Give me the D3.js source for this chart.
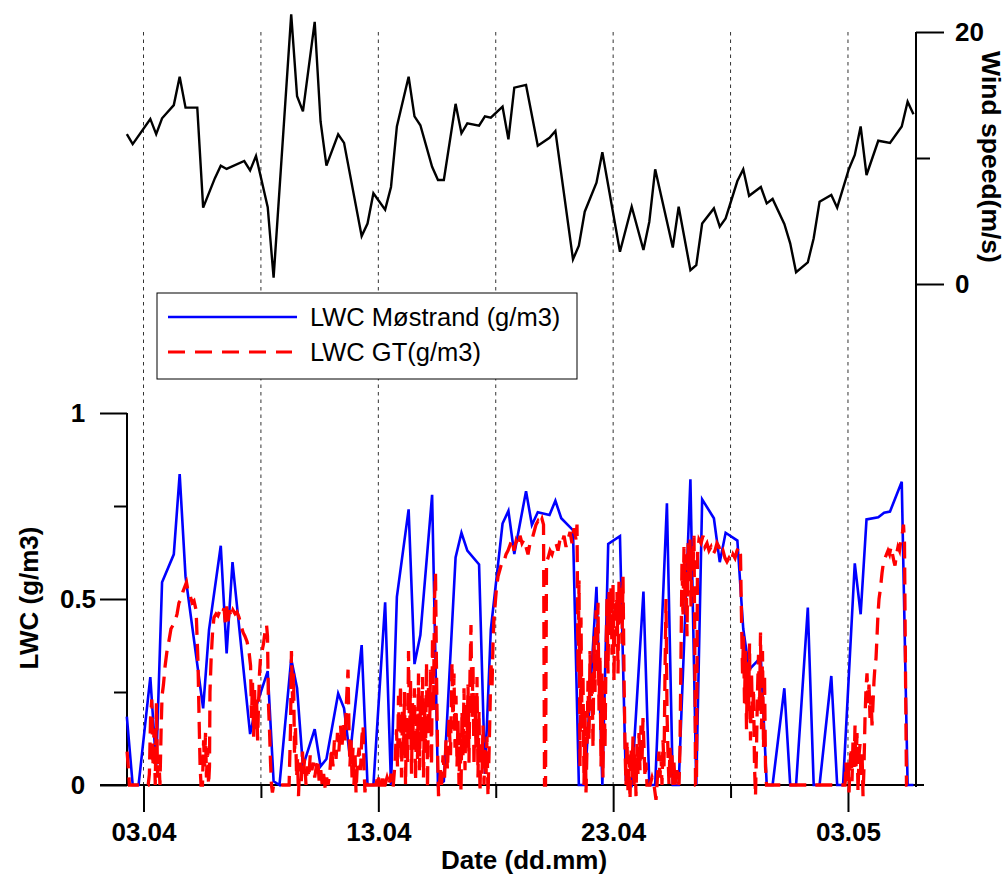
<!DOCTYPE html>
<html><head><meta charset="utf-8">
<script src="https://cdn.jsdelivr.net/npm/d3@7"></script>
<style>body{margin:0;background:#fff} svg{display:block}</style>
</head><body>
<svg id="chart" width="1006" height="879"></svg>
<script>
// ---- data (time = day of April, decimal; 33 = 03.05) ----
const windDay = [2.29,2.54,3.29,3.54,3.79,4.29,4.54,4.79,5.29,5.54,6.04,6.29,6.54,7.29,7.54,7.79,8.29,8.54,9.29,9.54,9.79,10.29,10.54,10.79,11.29,11.54,12.29,12.54,12.79,13.29,13.54,13.79,14.29,14.54,14.79,15.29,15.54,15.79,16.29,16.54,16.79,17.29,17.54,17.79,18.29,18.54,18.79,19.29,19.79,20.29,20.54,21.29,21.54,21.79,22.29,22.54,23.29,23.79,24.29,24.54,24.79,25.54,25.79,26.29,26.54,26.79,27.29,27.54,27.79,28.29,28.54,28.79,29.29,29.54,29.79,30.29,30.54,30.79,31.29,31.54,31.79,32.29,32.54,33.04,33.29,33.54,33.79,34.29,34.79,35.29,35.54,35.79];
const windSpeed = [11.9,11.1,13.1,11.9,13.15,14.2,16.45,14.0,14.0,6.06,8.4,9.39,9.13,9.76,9.02,10.16,6.09,0.5,21.4,14.9,13.7,20.8,12.9,9.39,11.88,11.2,3.8,4.8,7.2,5.9,7.7,12.5,16.45,13.3,12.6,9.3,8.25,8.25,14.3,11.96,12.75,12.56,13.3,13.2,14.07,11.48,15.58,15.8,10.98,11.6,12.14,1.96,3.04,5.74,8.04,10.45,2.56,6.13,2.7,4.94,9.1,2.9,6.13,1.1,1.5,4.8,6.0,4.55,5.2,8.17,9.1,7.0,7.7,6.4,6.75,4.76,3.23,0.93,1.72,3.63,6.53,7.06,6.06,9.13,10.24,12.5,8.65,11.37,11.2,12.5,14.47,13.47];

const mostrandDay = [2.29,2.54,2.79,3.29,3.54,3.79,4.29,4.54,4.79,5.54,5.79,6.29,6.54,6.79,7.54,7.79,8.29,8.54,8.79,9.29,9.54,9.79,10.29,10.54,10.79,11.29,11.54,11.79,12.29,12.54,12.79,13.29,13.54,13.79,14.29,14.54,14.79,15.29,15.54,15.79,16.29,16.54,16.79,17.29,17.54,17.79,18.29,18.54,18.79,19.29,19.54,19.79,20.29,20.54,20.79,21.29,21.54,21.79,22.29,22.54,22.79,23.29,23.54,23.79,24.29,24.54,24.79,25.29,25.54,25.79,26.29,26.54,26.79,27.29,27.54,27.79,28.29,28.54,28.79,29.29,29.54,29.79,30.29,30.54,30.79,31.29,31.54,31.79,32.29,32.54,32.79,33.29,33.54,33.79,34.29,34.54,34.79,35.29,35.54,35.79];
const mostrandLWC = [0.184,0,0,0.29,0.05,0.545,0.62,0.836,0.56,0.206,0.417,0.643,0.354,0.599,0.137,0.21,0.306,0.01,0,0.339,0.26,0.05,0.15,0.05,0.07,0.246,0.206,0.076,0.376,0,0,0.491,0,0.506,0.741,0.325,0.403,0.78,0,0.01,0.612,0.678,0.63,0.593,0.03,0.418,0.703,0.737,0.621,0.79,0.699,0.733,0.726,0.764,0.717,0.685,0,0,0.533,0,0.648,0.669,0.013,0,0.52,0,0,0.757,0,0,0.822,0,0.768,0.717,0.599,0.678,0.657,0.42,0.31,0.343,0,0,0.26,0,0,0.477,0,0,0.293,0,0,0.596,0.459,0.714,0.72,0.732,0.735,0.815,0,0];

const gtSeries = [
[2.30,0.09],[2.35,0.05],[2.40,0],[3.20,0],[3.25,0.03],[3.30,0.18],[3.35,0.23],[3.40,0.05],[3.45,0.15],[3.50,0],[3.55,0.22],[3.60,0.02],[3.65,0.08],[3.70,0],
[3.75,0.15],[3.79,0.24],[3.85,0.27],[3.92,0.32],[4.00,0.36],[4.09,0.39],[4.17,0.42],[4.26,0.43],[4.34,0.44],[4.43,0.46],[4.51,0.49],[4.60,0.50],[4.68,0.52],[4.77,0.535],[4.83,0.545],[4.90,0.52],[4.98,0.51],[5.07,0.49],[5.15,0.495],[5.24,0.47],[5.28,0.40],[5.32,0.33],[5.36,0.20],[5.41,0.05],[5.45,0],[5.51,0],[5.56,0.12],[5.60,0.05],[5.64,0.14],[5.68,0.02],[5.73,0.10],[5.77,0],
[5.81,0.05],[5.83,0.25],[5.88,0.34],[5.94,0.41],[6.00,0.45],[6.09,0.46],[6.17,0.455],[6.26,0.47],[6.34,0.46],[6.43,0.475],[6.49,0.43],[6.54,0.48],[6.60,0.44],[6.66,0.47],[6.73,0.45],[6.81,0.47],[6.90,0.46],[6.98,0.465],[7.07,0.45],[7.15,0.43],[7.24,0.41],[7.32,0.40],[7.41,0.385],[7.49,0.36],[7.56,0.32],[7.60,0.18],[7.64,0.28],[7.69,0.13],[7.73,0.26],[7.77,0.15],[7.81,0.24],[7.86,0.12],[7.90,0.22],[7.94,0.30],[7.98,0.34],[8.05,0.36],[8.11,0.38],[8.17,0.41],[8.24,0.43],[8.28,0.40],[8.32,0.22],[8.37,0.14],[8.41,0.06],[8.45,0],[8.49,-0.02],[8.54,0],
[9.20,0],[9.26,0.15],[9.30,0.36],[9.35,0.22],[9.39,0.30],[9.43,0.08],[9.47,0.16],[9.52,0.02],[9.56,0.07],[9.60,-0.03],[9.64,0.04],
[9.68,0.06],[9.72,0.01],[9.77,0.09],[9.81,0.03],[9.86,0.07],[9.92,0],[9.98,0.05],[10.04,0.02],[10.10,0.08],[10.17,0.04],[10.23,0.06],[10.29,0.02],[10.36,0.05],[10.42,0.07],[10.48,0.01],[10.55,0.04],[10.61,0],[10.67,0.03],[10.74,-0.01],[10.80,0.02],[10.86,0],
[10.94,0.04],[11.01,0.10],[11.07,0.05],[11.13,0.12],[11.20,0.07],[11.26,0.14],[11.32,0.09],[11.39,0.16],[11.45,0.10],[11.52,0.17],[11.58,0.12],[11.64,0.22],[11.71,0.31],[11.75,0.15],[11.79,0.05],[11.84,0.12],[11.88,0.02],[11.92,0.10],[11.96,0],[12.01,0.08],[12.05,-0.02],[12.11,0.06],[12.18,0.10],[12.24,0.04],[12.30,0.13],[12.35,0.16],[12.39,0.05],[12.43,-0.02],[12.47,0.01],
[12.52,0],[12.90,0],[12.99,0.03],[13.03,0],[13.14,0],[13.18,0.03],[13.22,0],
[13.285,0],[13.37,0.02],[13.455,0],[13.54,0.03],[13.626,-0.01],[13.711,0.06],[13.774,0.15],[13.817,0.05],[13.86,0.24],[13.902,0.10],[13.945,0.27],[13.987,0.02],[14.03,0.20],[14.073,0.08],[14.115,0.25],[14.158,0],[14.20,0.18],[14.243,0.06],[14.286,0.36],[14.328,0.12],[14.371,0.28],[14.413,0.03],[14.456,0.22],[14.498,0.10],[14.541,0.26],[14.584,0.01],[14.626,0.19],[14.669,0.07],[14.711,0.30],[14.754,0.04],[14.797,0.24],[14.839,0.12],[14.882,0.29],[14.924,0.02],[14.967,0.21],[15.01,0.09],[15.052,0.33],[15.095,-0.01],[15.137,0.27],[15.18,0.14],[15.222,0.31],[15.265,0.05],[15.308,0.40],[15.35,0.20],[15.393,0.50],[15.435,0.57],[15.478,0.30],[15.52,0.10],[15.563,-0.03],[15.605,0],
[15.648,0.04],[15.691,0],[15.755,0.08],[15.819,0.02],[15.882,0.12],[15.946,0.04],[16.01,0.18],[16.074,0.08],[16.138,0.33],[16.18,0.15],[16.223,0.30],[16.266,0.10],[16.308,0.24],[16.351,0.05],[16.393,0.18],[16.436,0],[16.478,0.14],[16.521,-0.02],[16.563,0.20],[16.606,0.08],[16.649,0.26],[16.691,0.04],[16.734,0.22],[16.776,0.10],[16.819,0.27],[16.861,0.06],[16.904,0.30],[16.946,0.43],[16.989,0.18],[17.032,0.32],[17.074,0.05],[17.117,0.24],[17.159,0.10],[17.202,0.29],[17.244,0.02],[17.287,0.20],[17.33,-0.02],[17.372,0.12],[17.415,0.03],[17.457,0.16],[17.50,0],[17.543,0.10],[17.585,0.02],[17.628,0.13],[17.67,-0.03],[17.713,0.08],[17.756,0.20],[17.798,0.33],[17.841,0.26],[17.883,0.38],[17.926,0.45],[17.968,0.48],
[18.032,0.53],[18.096,0.56],[18.182,0.58],[18.267,0.60],[18.352,0.60],[18.437,0.62],[18.523,0.63],[18.608,0.645],[18.693,0.66],[18.778,0.63],[18.863,0.655],[18.949,0.64],[19.034,0.67],[19.119,0.65],[19.204,0.66],[19.289,0.64],[19.374,0.62],[19.46,0.65],[19.545,0.66],[19.63,0.68],[19.715,0.70],[19.80,0.71],[19.885,0.70],[19.971,0.715],[20.035,0.70],[20.077,0],[20.12,0],[20.162,0.60],[20.226,0.61],[20.311,0.63],[20.396,0.62],[20.482,0.64],[20.567,0.65],[20.652,0.63],[20.737,0.66],[20.822,0.65],[20.907,0.67],[20.993,0.64],[21.078,0.66],[21.163,0.68],[21.248,0.65],[21.333,0.69],[21.418,0.66],[21.461,0.70],
[21.504,0.30],[21.546,0.55],[21.589,0.05],[21.631,0.45],[21.674,0.15],[21.716,0.30],[21.759,0],[21.802,0.20],[21.844,-0.02],[21.887,0.10],[21.929,0.28],[21.972,0.12],[22.014,0.36],[22.057,0.20],[22.10,0.30],[22.142,0.10],[22.185,0.40],[22.227,0.25],[22.27,0.47],[22.313,0.30],[22.355,0.49],[22.398,0.20],[22.44,0.35],[22.483,0.05],[22.525,0.30],[22.568,0.02],[22.611,0.28],[22.653,0.10],[22.696,0.35],[22.738,0.50],[22.781,0.30],[22.823,0.52],[22.866,0.42],[22.909,0.53],[22.951,0.35],[22.994,0.54],[23.036,0.28],[23.079,0.50],[23.122,0.40],[23.164,0.52],[23.207,0.30],[23.249,0.55],[23.292,0.45],[23.334,0.53],[23.377,0.38],[23.42,0.56],[23.462,0.30],[23.505,0.10],
[23.547,0],[23.59,0.12],[23.633,-0.02],[23.675,0.08],[23.718,-0.04],[23.76,0.10],[23.803,0.02],[23.845,0.13],[23.888,0],[23.931,0.09],[23.973,-0.03],[24.016,0.11],[24.058,0.03],[24.101,0.14],[24.143,0.04],[24.186,0.16],[24.229,0.06],[24.271,0.18],[24.314,0.10],[24.356,0.02],[24.399,0.06],[24.441,0],[24.569,0],[24.654,0.02],[24.74,0],[24.825,-0.04],[24.867,0],[24.91,0.05],[24.952,0.09],[24.995,0.02],[25.038,0.08],[25.08,0],[25.123,0.12],[25.165,0.05],[25.208,0.30],[25.25,0.50],[25.293,0.20],[25.336,0.08],[25.378,0],[25.421,0.10],[25.463,0.02],[25.506,0.08],[25.548,0],[25.591,0.06],[25.634,0],[25.719,0.04],[25.804,0],
[25.847,0.10],[25.889,0.35],[25.932,0.60],[25.974,0.45],[26.017,0.64],[26.06,0.50],[26.102,0.62],[26.145,0.40],[26.187,0.65],[26.23,0.55],[26.273,0.66],[26.315,0.48],[26.358,0.64],[26.40,0.58],[26.443,0.67],[26.485,0.30],[26.507,0],[26.549,0],[26.592,0.62],[26.656,0.66],[26.741,0.65],[26.826,0.67],[26.911,0.64],[26.996,0.65],[27.082,0.63],[27.167,0.64],[27.252,0.62],[27.337,0.63],[27.422,0.65],[27.508,0.64],[27.593,0.62],[27.678,0.63],[27.763,0.61],[27.848,0.60],[27.934,0.61],[28.019,0.60],[28.104,0.62],[28.189,0.61],[28.274,0.63],[28.36,0.64],[28.423,0.62],
[28.466,0.45],[28.509,0.30],[28.551,0.40],[28.594,0.22],[28.636,0.36],[28.679,0.15],[28.722,0.33],[28.764,0.20],[28.807,0.38],[28.849,0.12],[28.892,0.30],[28.935,0.18],[28.977,0.26],[29.02,0.05],[29.062,-0.03],[29.105,0.10],[29.147,0.25],[29.19,0.35],[29.233,0.20],[29.275,0.41],[29.318,0.15],[29.36,0.36],[29.403,0.10],[29.446,0.30],[29.488,0.05],[29.531,0],
[32.874,0],[32.917,0.06],[32.959,0],[33.002,0.07],[33.045,-0.02],[33.087,0.05],[33.13,0.10],[33.172,0.01],[33.215,0.12],[33.257,0.04],[33.30,0.16],[33.343,0.05],[33.385,0.14],[33.428,-0.02],[33.47,0.08],[33.513,0.11],[33.555,0.02],[33.598,0.09],[33.641,-0.03],[33.683,0.05],[33.726,0.18],[33.768,0.26],[33.811,0.30],[33.854,0.22],[33.896,0.27],[33.939,0.18],[33.981,0.24],[34.024,0.16],[34.066,0.22],[34.109,0.28],[34.152,0.32],[34.194,0.34],[34.237,0.40],[34.279,0.46],[34.322,0.50],[34.386,0.53],[34.45,0.57],[34.514,0.60],[34.577,0.61],[34.641,0.62],[34.705,0.63],[34.769,0.62],[34.833,0.64],[34.897,0.62],[34.961,0.60],[35.003,0.59],[35.067,0.62],[35.131,0.64],[35.195,0.63],[35.258,0.66],[35.322,0.68],[35.365,0.70],[35.407,0.65],[35.45,0.30],[35.492,0],[35.535,0]
];

const majorTickLabels = ["03.04","13.04","23.04","03.05"];
const minorTickLabels = ["08.04","18.04","28.04"];
const gridLabels = ["03.04","08.04","13.04","18.04","23.04","28.04","03.05"];
const lwcTicks = [0, 0.5, 1];
const lwcMinorTicks = [0.25, 0.75];
const windTicks = [0, 20];
const windMinorTicks = [10];
const legendLabels = ["LWC Møstrand (g/m3)", "LWC GT(g/m3)"];
const titles = {x: "Date (dd.mm)", yLeft: "LWC (g/m3)", yRight: "Wind speed(m/s)"};
const xDomainDays = [2.297, 35.897];

// ---- helpers ----
const base = Date.UTC(2012, 2, 31);
const dayToDate = d => new Date(base + d * 864e5);
const parseLbl = d3.utcParse("%d.%m.%Y");
const lblDate = s => parseLbl(s + ".2012");

const svg = d3.select("#chart");
const FONT = "'Liberation Sans', Arial, Helvetica, sans-serif";

const x = d3.scaleUtc().domain(xDomainDays.map(dayToDate)).range([127, 916]);
const yL = d3.scaleLinear().domain([0, 1]).range([785, 413]);
const yW = d3.scaleLinear().domain([0, 20]).range([284, 32]);

// dotted grid lines
svg.append("g").selectAll("line").data(gridLabels).join("line")
  .attr("x1", d => x(lblDate(d))).attr("x2", d => x(lblDate(d)))
  .attr("y1", yW(20)).attr("y2", yL(0))
  .attr("stroke", "#333").attr("stroke-width", 1).attr("stroke-dasharray", "3.5,4");

function styleAxis(g) {
  g.selectAll("line").attr("stroke", "#000").attr("stroke-width", 2);
  g.selectAll("path").remove();
  g.selectAll("text").attr("font-family", FONT).attr("font-weight", "bold").attr("font-size", 26).attr("fill", "#000");
}

// bottom axis
const gxMaj = svg.append("g").attr("transform", `translate(0,${yL(0)})`)
  .call(d3.axisBottom(x).tickValues(majorTickLabels.map(lblDate)).tickSize(27).tickFormat(d3.utcFormat("%d.%m")));
styleAxis(gxMaj);
gxMaj.selectAll("text").attr("dy", null).attr("y", 56);
const gxMin = svg.append("g").attr("transform", `translate(0,${yL(0)})`)
  .call(d3.axisBottom(x).tickValues(minorTickLabels.map(lblDate)).tickSize(13).tickFormat(""));
styleAxis(gxMin);

// left axis
const gyL = svg.append("g").attr("transform", `translate(${x.range()[0]},0)`)
  .call(d3.axisLeft(yL).tickValues(lwcTicks).tickSize(27).tickFormat(d3.format("")));
styleAxis(gyL);
gyL.selectAll("text").attr("text-anchor", "middle").attr("x", -49);
const gyLm = svg.append("g").attr("transform", `translate(${x.range()[0]},0)`)
  .call(d3.axisLeft(yL).tickValues(lwcMinorTicks).tickSize(13).tickFormat(""));
styleAxis(gyLm);

// right axis
const gyR = svg.append("g").attr("transform", `translate(${x.range()[1]},0)`)
  .call(d3.axisRight(yW).tickValues(windTicks).tickSize(28).tickPadding(11).tickFormat(d3.format("")));
styleAxis(gyR);
const gyRm = svg.append("g").attr("transform", `translate(${x.range()[1]},0)`)
  .call(d3.axisRight(yW).tickValues(windMinorTicks).tickSize(14).tickFormat(""));
styleAxis(gyRm);

// axis lines
svg.append("line").attr("x1", x.range()[0]).attr("x2", x.range()[0]).attr("y1", yL(1)).attr("y2", yL(0) + 1)
  .attr("stroke", "#000").attr("stroke-width", 2);
svg.append("line").attr("x1", x.range()[1]).attr("x2", x.range()[1]).attr("y1", yW(20)).attr("y2", yL(0) + 2)
  .attr("stroke", "#000").attr("stroke-width", 2);
svg.append("line").attr("x1", x.range()[0] - 27).attr("x2", x.range()[1] + 8).attr("y1", yL(0)).attr("y2", yL(0))
  .attr("stroke", "#000").attr("stroke-width", 2);

// axis titles
svg.append("text").attr("x", 524).attr("y", 869).attr("text-anchor", "middle")
  .attr("font-family", FONT).attr("font-weight", "bold").attr("font-size", 26).text(titles.x);
svg.append("text").attr("transform", "translate(29,598) rotate(-90)").attr("text-anchor", "middle")
  .attr("dominant-baseline", "central")
  .attr("font-family", FONT).attr("font-weight", "bold").attr("font-size", 26).text(titles.yLeft);
svg.append("text").attr("transform", "translate(991,157) rotate(90)").attr("text-anchor", "middle")
  .attr("dominant-baseline", "central")
  .attr("font-family", FONT).attr("font-weight", "bold").attr("font-size", 26.5).text(titles.yRight);

// data lines
const lineM = d3.line().x((d, i) => x(dayToDate(mostrandDay[i]))).y(d => yL(d));
svg.append("path").datum(mostrandLWC).attr("d", lineM)
  .attr("fill", "none").attr("stroke", "#0000ff").attr("stroke-width", 2.6);

const lineGT = d3.line().x(d => x(dayToDate(d[0]))).y(d => yL(d[1]));
svg.append("path").datum(gtSeries).attr("d", lineGT)
  .attr("fill", "none").attr("stroke", "#ff0000").attr("stroke-width", 3.3).attr("stroke-dasharray", "17,9");

const lineW = d3.line().x((d, i) => x(dayToDate(windDay[i]))).y(d => yW(d));
svg.append("path").datum(windSpeed).attr("d", lineW)
  .attr("fill", "none").attr("stroke", "#000").attr("stroke-width", 2.4);

// legend
const lg = svg.append("g");
lg.append("rect").attr("x", 157).attr("y", 293).attr("width", 420).attr("height", 86)
  .attr("fill", "#fff").attr("stroke", "#000").attr("stroke-width", 1);
const legendStyles = [{stroke: "#0000ff", w: 2.6, dash: null, x2: 297}, {stroke: "#ff0000", w: 3, dash: "17,10", x2: 292}];
legendLabels.forEach((lbl, i) => {
  const yy = 317 + i * 35;
  lg.append("line").attr("x1", 168).attr("x2", legendStyles[i].x2).attr("y1", yy).attr("y2", yy)
    .attr("stroke", legendStyles[i].stroke).attr("stroke-width", legendStyles[i].w)
    .attr("stroke-dasharray", legendStyles[i].dash);
  lg.append("text").attr("x", 310).attr("y", yy).attr("dominant-baseline", "central")
    .attr("font-family", FONT).attr("font-size", 25.5).attr("fill", "#000").text(lbl);
});
</script>
</body></html>
